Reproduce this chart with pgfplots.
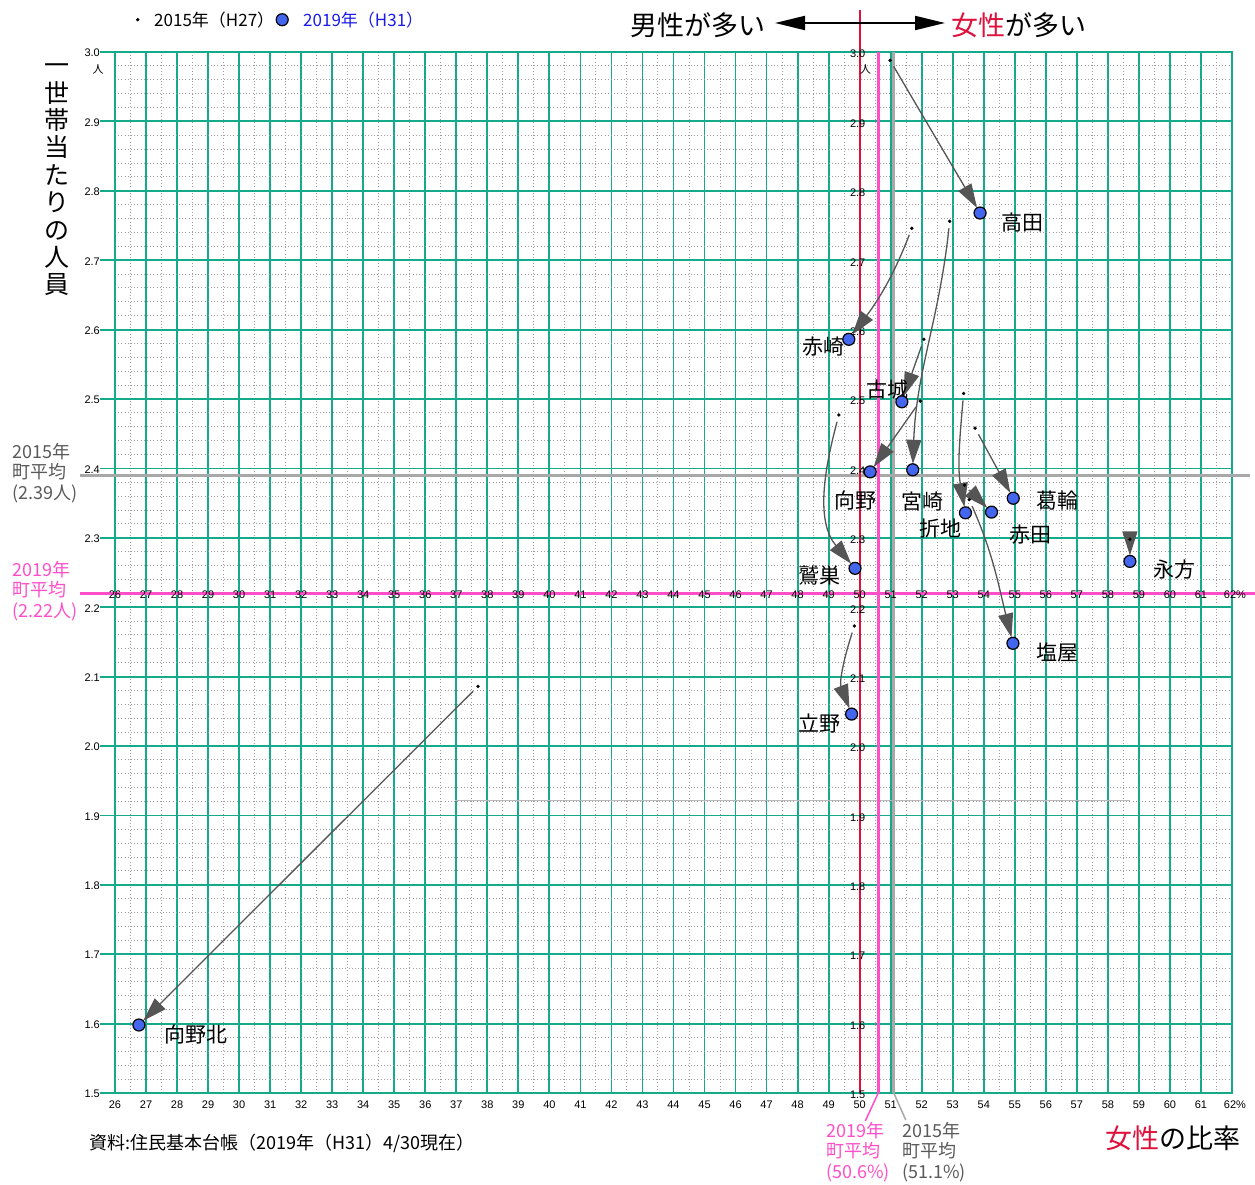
\documentclass[border=0pt]{standalone}
\usepackage{pgfplots}
\pgfplotsset{compat=1.18}
\usepackage{fontspec}
\setmainfont{Noto Sans CJK JP}
\newfontfamily\tickfont{Liberation Sans}
\usetikzlibrary{arrows.meta}
\definecolor{gridgreen}{HTML}{14AA8A}
\definecolor{dotgray}{HTML}{9C9C9C}
\definecolor{ptblue}{HTML}{4466EE}
\definecolor{avgpink}{HTML}{FF4FC8}
\definecolor{femred}{HTML}{E0103C}
\definecolor{avggray}{HTML}{A8A8A8}
\definecolor{txtgray}{HTML}{5A5A5A}
\definecolor{arrowgray}{HTML}{555555}
\definecolor{legblue}{HTML}{1A1AEE}
\tikzset{chg/.style={draw=arrowgray, line width=1.3pt, -{Triangle[length=24pt,width=15pt]}, shorten <=7pt, shorten >=6pt},
  tk/.style={font=\tickfont\fontsize{11}{11}\selectfont, inner sep=0pt},
  reg/.style={font=\fontsize{21}{21}\selectfont, inner sep=0pt}}
\begin{document}
\begin{tikzpicture}
\begin{axis}[
  at={(115pt,-1093pt)}, anchor=south west,
  scale only axis, width=1117pt, height=1041pt,
  xmin=26, xmax=62, ymin=1.5, ymax=3.0,
  xtick={26,27,28,29,30,31,32,33,34,35,36,37,38,39,40,41,42,43,44,45,46,47,48,49,50,51,52,53,54,55,56,57,58,59,60,61,62},
  ytick={1.5,1.6,1.7,1.8,1.9,2.0,2.1,2.2,2.3,2.4,2.5,2.6,2.7,2.8,2.9,3.0},
  minor x tick num=1, minor y tick num=4,
  xticklabels={}, yticklabels={},
  major tick length=0pt, minor tick length=0pt,
  grid=both,
  major grid style={draw=gridgreen, line width=1.8pt},
  minor grid style={draw=dotgray, line width=1pt, dash pattern=on 1pt off 2.2pt},
  axis line style={draw=gridgreen, line width=1.8pt},
  clip=false,
  legend style={at={(0.019,1.031)}, anchor=west, draw=none, fill=none,
    legend columns=2, inner sep=0pt, outer sep=0pt,
    font=\fontsize{17}{17}\selectfont,
    /tikz/every odd column/.append style={column sep=13pt},
    /tikz/every even column/.append style={column sep=0pt}},
]
% outward left ticks
\pgfplotsinvokeforeach{1.5,1.6,1.7,1.8,1.9,2.0,2.1,2.2,2.3,2.4,2.5,2.6,2.7,2.8,2.9,3.0}{
  \draw[gridgreen, line width=1.8pt] ([xshift=-15pt]axis cs:26,#1) -- (axis cs:26,#1);
}
% reference lines
\draw[avggray!80, line width=0.8pt] (axis cs:36.96,1.921) -- (axis cs:58.71,1.921);
\draw[avggray, line width=3pt] ([xshift=-35pt]axis cs:26,2.39) -- ([xshift=18pt]axis cs:62,2.39);
\draw[avgpink, line width=3pt] ([xshift=-35pt]axis cs:26,2.22) -- ([xshift=23pt]axis cs:62,2.22);
\draw[femred, line width=1.8pt] (axis cs:50,1.5) -- ([yshift=42pt]axis cs:50,3.0);
\draw[avgpink, line width=3pt] (axis cs:50.6,1.5) -- (axis cs:50.6,3.0);
\draw[avggray, line width=3pt] (axis cs:51.1,1.5) -- (axis cs:51.1,3.0);
\draw[avgpink, line width=1.5pt] (axis cs:50.6,1.5) -- ++(-13pt,-28pt);
\draw[avggray, line width=1.5pt] (axis cs:51.1,1.5) -- ++(12pt,-27pt);
% tick labels
\pgfplotsinvokeforeach{26,27,28,29,30,31,32,33,34,35,36,37,38,39,40,41,42,43,44,45,46,47,48,49,50,51,52,53,54,55,56,57,58,59,60,61}{
  \node[tk] at ([yshift=-12pt]axis cs:#1,1.5) {#1};
  \node[tk] at ([yshift=-1pt]axis cs:#1,2.22) {#1};
}
\node[tk] at ([xshift=3pt,yshift=-12pt]axis cs:62,1.5) {62\%};
\node[tk] at ([xshift=3pt,yshift=-1pt]axis cs:62,2.22) {62\%};
\pgfplotsinvokeforeach{1.5,1.6,1.7,1.8,1.9,2.0,2.1,2.2,2.3,2.4,2.5,2.6,2.7,2.8,2.9,3.0}{
  \node[tk, anchor=east] at ([xshift=-15pt,yshift=-1pt]axis cs:26,#1) {#1};
  \node[tk] at ([xshift=-2pt,yshift=-2pt]axis cs:50,#1) {#1};
}
\node[font=\fontsize{11}{11}\selectfont, inner sep=0pt] at ([xshift=-17pt,yshift=-17pt]axis cs:26,3.0) {人};
\node[font=\fontsize{11}{11}\selectfont, inner sep=0pt] at ([xshift=6pt,yshift=-17pt]axis cs:50,3.0) {人};
% change arrows (2015 -> 2019)
\draw[chg] (axis cs:50.98,2.988) -- (axis cs:53.88,2.768);
\draw[chg] (axis cs:51.68,2.746) to[out=249,in=53] (axis cs:49.65,2.586);
\draw[chg] (axis cs:52.90,2.756) to[out=264,in=88] (axis cs:51.71,2.398);
\draw[chg] (axis cs:52.07,2.586) -- (axis cs:51.36,2.496);
\draw[chg] (axis cs:51.95,2.497) -- (axis cs:50.34,2.395);
\draw[chg] (axis cs:53.35,2.508) to[out=265,in=100] (axis cs:53.41,2.336);
\draw[chg] (axis cs:53.72,2.458) -- (axis cs:54.95,2.357);
\draw[chg] (axis cs:53.38,2.376) -- (axis cs:54.25,2.337);
\draw[chg] (axis cs:53.53,2.355) to[out=294,in=104] (axis cs:54.94,2.148);
\draw[chg, shorten <=0pt] (axis cs:58.71,2.298) -- (axis cs:58.71,2.266);
\draw[chg] (axis cs:49.33,2.477) to[out=255,in=130] (axis cs:49.85,2.256);
\draw[chg] (axis cs:49.83,2.173) to[out=252,in=111] (axis cs:49.74,2.046);
\draw[chg] (axis cs:37.70,2.086) -- (axis cs:26.77,1.598);
% points
\addplot[only marks, mark=*, mark size=1.5pt, mark options={fill=black, draw=black}] coordinates {
 (50.98,2.988) (51.68,2.746) (52.90,2.756) (52.07,2.586) (51.95,2.497) (53.35,2.508)
 (53.72,2.458) (53.38,2.376) (53.53,2.355) (58.71,2.298) (49.33,2.477) (49.83,2.173) (37.70,2.086)};
\addlegendentry{2015年（H27）}
\addplot[only marks, mark=*, mark size=6pt, mark options={fill=ptblue, draw=black, line width=1.2pt}] coordinates {
 (53.88,2.768) (49.65,2.586) (51.71,2.398) (51.36,2.496) (50.34,2.395) (53.41,2.336)
 (54.95,2.357) (54.25,2.337) (54.94,2.148) (58.71,2.266) (49.85,2.256) (49.74,2.046) (26.77,1.598)};
\addlegendentry{\textcolor{legblue}{2019年（H31）}}
% region labels
\node[reg] at (axis cs:55.26,2.754) {高田};
\node[reg] at (axis cs:48.85,2.575) {赤崎};
\node[reg] at (axis cs:50.91,2.514) {古城};
\node[reg] at (axis cs:49.85,2.354) {向野};
\node[reg] at (axis cs:52.01,2.352) {宮崎};
\node[reg] at (axis cs:52.62,2.313) {折地};
\node[reg] at (axis cs:56.36,2.354) {葛輪};
\node[reg] at (axis cs:55.52,2.304) {赤田};
\node[reg] at (axis cs:60.16,2.254) {永方};
\node[reg] at (axis cs:48.69,2.245) {鷲巣};
\node[reg] at (axis cs:56.39,2.135) {塩屋};
\node[reg] at (axis cs:48.69,2.032) {立野};
\node[reg] at (axis cs:28.61,1.585) {向野北};
\end{axis}
% titles and notes
\node[font=\fontsize{27}{27}\selectfont, anchor=east, inner sep=0pt] at (766pt,-25pt) {男性が多い};
\draw[black, line width=2pt, {Triangle[length=30pt,width=14pt]}-{Triangle[length=30pt,width=14pt]}] (775pt,-23pt) -- (945pt,-23pt);
\node[font=\fontsize{27}{27}\selectfont, anchor=west, inner sep=0pt] at (951pt,-25pt) {\textcolor{femred}{女性}が多い};
\node[font=\fontsize{27}{27}\selectfont, anchor=east, inner sep=0pt] at (1241pt,-1138pt) {\textcolor{femred}{女性}の比率};
\node[font=\fontsize{18}{18}\selectfont, anchor=west, inner sep=0pt] at (89pt,-1143pt) {資料:住民基本台帳（2019年（H31）4/30現在）};
\node[font=\fontsize{25}{27.4}\selectfont, align=center, inner sep=0pt] at (57pt,-180pt) {一\\世\\帯\\当\\た\\り\\の\\人\\員};
\node[font=\fontsize{18}{20.5}\selectfont, align=left, anchor=west, text=txtgray, inner sep=0pt] at (12pt,-473pt) {2015年\\町平均\\(2.39人)};
\node[font=\fontsize{18}{20.5}\selectfont, align=left, anchor=west, text=avgpink, inner sep=0pt] at (12pt,-591pt) {2019年\\町平均\\(2.22人)};
\node[font=\fontsize{18}{20.5}\selectfont, align=left, anchor=north west, text=avgpink, inner sep=0pt] at (826pt,-1122pt) {2019年\\町平均\\(50.6\%)};
\node[font=\fontsize{18}{20.5}\selectfont, align=left, anchor=north west, text=txtgray, inner sep=0pt] at (902pt,-1122pt) {2015年\\町平均\\(51.1\%)};
\pgfresetboundingbox
\useasboundingbox (0,0) rectangle (1255pt,-1185pt);
\end{tikzpicture}
\end{document}
